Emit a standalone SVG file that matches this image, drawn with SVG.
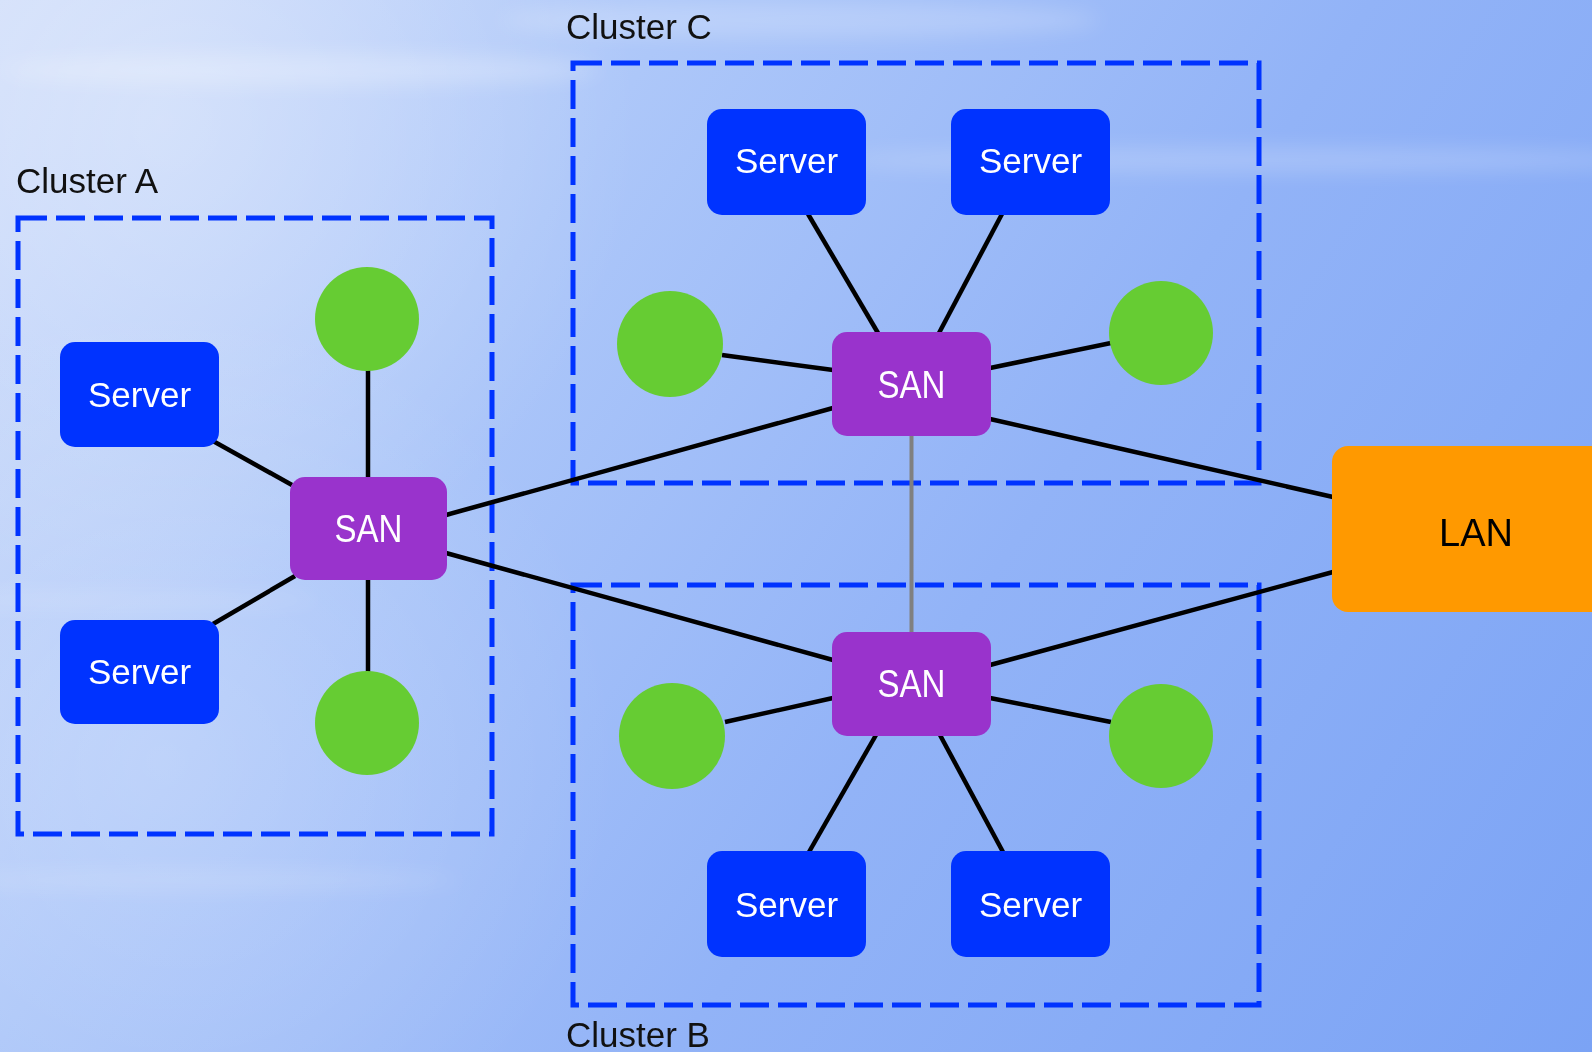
<svg xmlns="http://www.w3.org/2000/svg" width="1592" height="1052" viewBox="0 0 1592 1052">
  <defs>
    <linearGradient id="sky" x1="0" y1="0" x2="1592" y2="1052" gradientUnits="userSpaceOnUse">
      <stop offset="0" stop-color="#cfddfa"/>
      <stop offset="0.3" stop-color="#adc7f9"/>
      <stop offset="0.6" stop-color="#92b3f7"/>
      <stop offset="1" stop-color="#7ba3f5"/>
    </linearGradient>
    <radialGradient id="hazeTL" cx="160" cy="120" r="480" gradientUnits="userSpaceOnUse">
      <stop offset="0" stop-color="#ffffff" stop-opacity="0.3"/>
      <stop offset="1" stop-color="#ffffff" stop-opacity="0"/>
    </radialGradient>
    <radialGradient id="hazeL" cx="160" cy="760" r="460" gradientUnits="userSpaceOnUse">
      <stop offset="0" stop-color="#ffffff" stop-opacity="0.2"/>
      <stop offset="1" stop-color="#ffffff" stop-opacity="0"/>
    </radialGradient>
    <filter id="soft" x="-20%" y="-200%" width="140%" height="500%">
      <feGaussianBlur stdDeviation="10"/>
    </filter>
    <style>
      .cluster { fill: none; stroke: #0033ff; stroke-width: 5; stroke-dasharray: 29 9; }
      .label { font-family: "Liberation Sans", Arial, sans-serif; font-size: 35px; fill: #111111; }
      .link { stroke: #000000; stroke-width: 4.5; stroke-linecap: butt; }
      .trunk { stroke: #808080; stroke-width: 4; }
      .server rect { fill: #0033ff; }
      .san rect { fill: #9933cc; }
      .disk circle { fill: #66cc33; }
      .lan rect { fill: #ff9900; }
      .txt { font-family: "Liberation Sans", Arial, sans-serif; text-anchor: middle; }
      .server text { font-size: 35px; fill: #ffffff; }
      .san text { font-size: 38px; fill: #ffffff; }
      .lan text { font-size: 38px; fill: #000000; }
    </style>
  </defs>

  <!-- sky backdrop -->
  <rect x="0" y="0" width="1592" height="1052" fill="url(#sky)"/>
  <rect x="0" y="0" width="1592" height="1052" fill="url(#hazeTL)"/>
  <rect x="0" y="0" width="1592" height="1052" fill="url(#hazeL)"/>
  <g filter="url(#soft)" fill="#ffffff">
    <ellipse cx="1250" cy="160" rx="420" ry="12" opacity="0.2"/>
    <ellipse cx="300" cy="70" rx="300" ry="16" opacity="0.25"/>
    <ellipse cx="800" cy="20" rx="300" ry="18" opacity="0.2"/>
    <ellipse cx="200" cy="880" rx="260" ry="10" opacity="0.15"/>
    <ellipse cx="120" cy="600" rx="200" ry="8" opacity="0.15"/>
  </g>

  <!-- cluster frames -->
  <g id="clusterA">
    <rect class="cluster" x="18" y="218" width="474" height="616"/>
    <text class="label" x="16" y="193">Cluster A</text>
  </g>
  <g id="clusterC">
    <rect class="cluster" x="573" y="63" width="686" height="420"/>
    <text class="label" x="566" y="39">Cluster C</text>
  </g>
  <g id="clusterB">
    <rect class="cluster" x="573" y="585" width="686" height="420"/>
    <text class="label" x="566" y="1047">Cluster B</text>
  </g>

  <!-- connectors -->
  <g id="connectors">
    <line class="link" x1="213" y1="441" x2="292" y2="485"/>
    <line class="link" x1="213" y1="624" x2="295" y2="576"/>
    <line class="link" x1="368" y1="370" x2="368" y2="478"/>
    <line class="link" x1="368" y1="579" x2="368" y2="672"/>
    <line class="link" x1="446" y1="515" x2="833" y2="408"/>
    <line class="link" x1="446" y1="553" x2="833" y2="660"/>
    <line class="link" x1="990" y1="419" x2="1333" y2="497"/>
    <line class="link" x1="990" y1="665" x2="1333" y2="572"/>
    <line class="trunk" x1="911.5" y1="435" x2="911.5" y2="633"/>
    <line class="link" x1="808" y1="214" x2="878" y2="333"/>
    <line class="link" x1="1002" y1="214" x2="939" y2="333"/>
    <line class="link" x1="722" y1="355" x2="833" y2="370"/>
    <line class="link" x1="990" y1="368" x2="1111" y2="343"/>
    <line class="link" x1="725" y1="722" x2="833" y2="698"/>
    <line class="link" x1="990" y1="698" x2="1111" y2="722"/>
    <line class="link" x1="876" y1="735" x2="809" y2="852"/>
    <line class="link" x1="940" y1="735" x2="1003" y2="852"/>
  </g>

  <!-- cluster A nodes -->
  <g id="serverA1" class="server">
    <rect x="60" y="342" width="159" height="105" rx="15"/>
    <text class="txt" x="139.5" y="407">Server</text>
  </g>
  <g id="serverA2" class="server">
    <rect x="60" y="620" width="159" height="104" rx="15"/>
    <text class="txt" x="139.5" y="684">Server</text>
  </g>
  <g id="sanA" class="san">
    <rect x="290" y="477" width="157" height="103" rx="15"/>
    <text class="txt" x="368.5" y="542" textLength="68" lengthAdjust="spacingAndGlyphs">SAN</text>
  </g>
  <g id="diskA1" class="disk"><circle cx="367" cy="319" r="52"/></g>
  <g id="diskA2" class="disk"><circle cx="367" cy="723" r="52"/></g>

  <!-- cluster C nodes -->
  <g id="serverC1" class="server">
    <rect x="707" y="109" width="159" height="106" rx="15"/>
    <text class="txt" x="786.5" y="173">Server</text>
  </g>
  <g id="serverC2" class="server">
    <rect x="951" y="109" width="159" height="106" rx="15"/>
    <text class="txt" x="1030.5" y="173">Server</text>
  </g>
  <g id="sanC" class="san">
    <rect x="832" y="332" width="159" height="104" rx="15"/>
    <text class="txt" x="911.5" y="398" textLength="68" lengthAdjust="spacingAndGlyphs">SAN</text>
  </g>
  <g id="diskC1" class="disk"><circle cx="670" cy="344" r="53"/></g>
  <g id="diskC2" class="disk"><circle cx="1161" cy="333" r="52"/></g>

  <!-- cluster B nodes -->
  <g id="serverB1" class="server">
    <rect x="707" y="851" width="159" height="106" rx="15"/>
    <text class="txt" x="786.5" y="917">Server</text>
  </g>
  <g id="serverB2" class="server">
    <rect x="951" y="851" width="159" height="106" rx="15"/>
    <text class="txt" x="1030.5" y="917">Server</text>
  </g>
  <g id="sanB" class="san">
    <rect x="832" y="632" width="159" height="104" rx="15"/>
    <text class="txt" x="911.5" y="697" textLength="68" lengthAdjust="spacingAndGlyphs">SAN</text>
  </g>
  <g id="diskB1" class="disk"><circle cx="672" cy="736" r="53"/></g>
  <g id="diskB2" class="disk"><circle cx="1161" cy="736" r="52"/></g>

  <!-- uplink -->
  <g id="lan" class="lan">
    <rect x="1332" y="446" width="290" height="166" rx="16"/>
    <text class="txt" x="1476" y="546">LAN</text>
  </g>
</svg>
